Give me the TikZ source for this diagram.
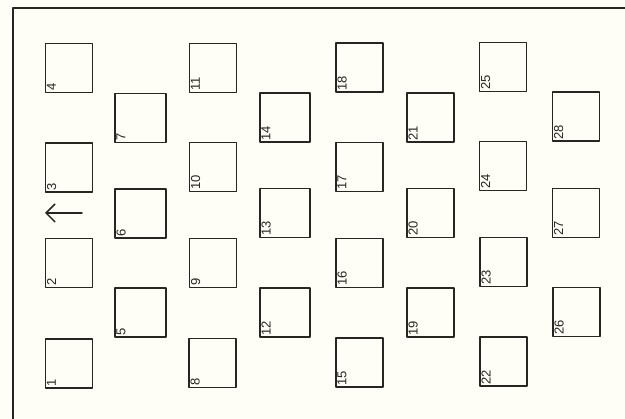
\documentclass[tikz,border=0pt]{standalone}
\usepackage{fontspec}
\setmainfont{Liberation Sans}
\usetikzlibrary{arrows.meta}
\definecolor{paper}{RGB}{254,253,246}
\definecolor{ink}{RGB}{40,38,34}

\begin{document}
\begin{tikzpicture}[x=1pt,y=-1pt,>={Straight Barb[length=9pt,width=18pt]},line cap=round,line join=round,
  cell/.style={draw=ink,line width=1.8pt,minimum width=47pt,minimum height=49pt,inner sep=0pt},
  num/.style={rotate=90,anchor=north west,inner sep=2.2pt,text=ink,font=\fontsize{13}{15}\selectfont}]
\fill[paper] (0,0) rectangle (625,419);
\useasboundingbox (0,0) rectangle (625,419);
\coordinate (frameTR) at (625,8);
\coordinate (frameTL) at (13,8);
\coordinate (frameBL) at (13,419);
\draw[ink,line width=2pt] (frameTR) -- (frameTL) -- (frameBL);
% first column
\node[cell] (b1) at (69,363.5) {};
\node[num] at (b1.south west) {1};
\node[cell] (b2) at (69,263) {};
\node[num] at (b2.south west) {2};
\node[cell] (b3) at (69,167.5) {};
\node[num] at (b3.south west) {3};
\node[cell] (b4) at (69,68) {};
\node[num] at (b4.south west) {4};
% second column
\node[cell,minimum width=51pt] (b5) at (140.5,312.5) {};
\node[num] at (b5.south west) {5};
\node[cell,minimum width=51pt] (b6) at (140.5,213.5) {};
\node[num] at (b6.south west) {6};
\node[cell,minimum width=51pt] (b7) at (140.5,118) {};
\node[num] at (b7.south west) {7};
% third column
\node[cell] (b8) at (212.5,363) {};
\node[num] at (b8.south west) {8};
\node[cell] (b9) at (213,263) {};
\node[num] at (b9.south west) {9};
\node[cell] (b10) at (213,167) {};
\node[num] at (b10.south west) {10};
\node[cell] (b11) at (213,68) {};
\node[num] at (b11.south west) {11};
% fourth column
\node[cell,minimum width=50pt] (b12) at (285,312.5) {};
\node[num] at (b12.south west) {12};
\node[cell,minimum width=50pt] (b13) at (285,213) {};
\node[num] at (b13.south west) {13};
\node[cell,minimum width=50pt] (b14) at (285,117.5) {};
\node[num] at (b14.south west) {14};
% fifth column
\node[cell] (b15) at (359.5,362.5) {};
\node[num] at (b15.south west) {15};
\node[cell] (b16) at (359.5,263) {};
\node[num] at (b16.south west) {16};
\node[cell] (b17) at (359.5,167) {};
\node[num] at (b17.south west) {17};
\node[cell] (b18) at (359.5,67.5) {};
\node[num] at (b18.south west) {18};
% sixth column
\node[cell] (b19) at (430.5,312.5) {};
\node[num] at (b19.south west) {19};
\node[cell] (b20) at (430.5,213) {};
\node[num] at (b20.south west) {20};
\node[cell] (b21) at (430.5,117.5) {};
\node[num] at (b21.south west) {21};
% seventh column
\node[cell] (b22) at (503.5,361.5) {};
\node[num] at (b22.south west) {22};
\node[cell] (b23) at (503.5,262) {};
\node[num] at (b23.south west) {23};
\node[cell] (b24) at (503,166) {};
\node[num] at (b24.south west) {24};
\node[cell] (b25) at (503,67) {};
\node[num] at (b25.south west) {25};
% eighth column
\node[cell] (b26) at (576.5,312) {};
\node[num] at (b26.south west) {26};
\node[cell] (b27) at (576,213) {};
\node[num] at (b27.south west) {27};
\node[cell] (b28) at (576,116.5) {};
\node[num] at (b28.south west) {28};
% direction arrow
\coordinate (arrowTail) at (82,213);
\coordinate (arrowTip) at (45,213);
\draw[->,ink,line width=1.5pt] (arrowTail) -- (arrowTip);
\end{tikzpicture}
\end{document}
